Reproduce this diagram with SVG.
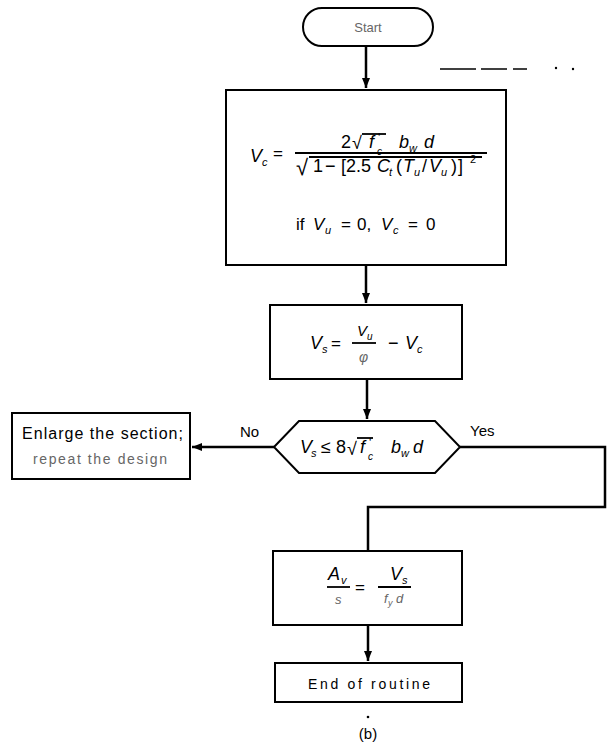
<svg xmlns="http://www.w3.org/2000/svg" width="609" height="749" viewBox="0 0 609 749">
<defs>
<style>
.box{fill:#fff;stroke:#000;stroke-width:2}
.wire{fill:none;stroke:#000;stroke-width:2.5}
.bar{stroke:#000;stroke-width:1.8}
.t{font-family:"Liberation Sans",Arial,sans-serif;fill:#000}
.i{font-style:italic}
.f{fill:#666}
.mark{stroke:#000;stroke-width:1.5}
</style>
<marker id="ah" markerWidth="10" markerHeight="8" refX="10" refY="4" orient="auto" markerUnits="userSpaceOnUse"><path d="M0,0 L10,4 L0,8 z" fill="#000"/></marker>
</defs>
<rect width="609" height="749" fill="#fff"/>

<g id="connectors">
<path class="wire" d="M366,46 V88" marker-end="url(#ah)"/>
<path class="wire" d="M366,265 V303" marker-end="url(#ah)"/>
<path class="wire" d="M367,379 V419" marker-end="url(#ah)"/>
<path class="wire" d="M274,447 H192" marker-end="url(#ah)"/>
<path class="wire" d="M460,447 H605 V507 H368 V551"/>
<path class="wire" d="M368,625 V661" marker-end="url(#ah)"/>
<text class="t" x="240" y="437" font-size="15">No</text>
<text class="t" x="470" y="436" font-size="15">Yes</text>
</g>

<g id="marks">
<line class="mark" x1="440" y1="69" x2="476" y2="69"/>
<line class="mark" x1="481" y1="69" x2="507" y2="69"/>
<line class="mark" x1="513" y1="69" x2="527" y2="69"/>
<circle cx="556" cy="68" r="1.2"/>
<circle cx="573" cy="69" r="1.2"/>
<circle cx="368" cy="717" r="1.3"/>
</g>

<g id="start">
<rect class="box" x="303" y="8" width="130" height="38" rx="19"/>
<text class="t f" x="368" y="32" font-size="13" text-anchor="middle">Start</text>
</g>

<g id="compute-vc">
<rect class="box" x="226" y="90" width="280" height="175"/>
<text class="t i" x="250" y="162" font-size="18">V</text>
<text class="t i" x="262" y="166" font-size="11">c</text>
<text class="t" x="273" y="159" font-size="17">=</text>
<text class="t" x="341" y="148" font-size="18">2</text>
<text class="t" x="352" y="149" font-size="18">√</text>
<line class="bar" x1="362" y1="134" x2="386" y2="134"/>
<text class="t i" x="369" y="148" font-size="18">f</text>
<text class="t" x="378" y="142" font-size="12">'</text>
<text class="t i" x="377" y="155" font-size="10">c</text>
<text class="t i" x="399" y="148" font-size="18">b</text>
<text class="t i" x="409" y="152" font-size="11">w</text>
<text class="t i" x="424" y="148" font-size="18">d</text>
<line class="bar" x1="295" y1="153" x2="487" y2="153"/>
<text class="t" x="296" y="175" font-size="22">√</text>
<line class="bar" x1="309" y1="157" x2="482" y2="157"/>
<text class="t" x="313" y="172" font-size="18">1</text>
<text class="t" x="325" y="172" font-size="18">−</text>
<text class="t" x="341" y="172" font-size="18">[2.5</text>
<text class="t i" x="377" y="172" font-size="18">C</text>
<text class="t i" x="389" y="176" font-size="11">t</text>
<text class="t" x="396" y="172" font-size="18">(</text>
<text class="t i" x="403" y="172" font-size="18">T</text>
<text class="t i" x="414" y="176" font-size="11">u</text>
<text class="t" x="422" y="172" font-size="18">/</text>
<text class="t i" x="429" y="172" font-size="18">V</text>
<text class="t i" x="441" y="176" font-size="11">u</text>
<text class="t" x="451" y="172" font-size="18">)</text>
<text class="t" x="458" y="172" font-size="18">]</text>
<text class="t" x="470" y="163" font-size="11">2</text>
<text class="t" x="296" y="230" font-size="17">if</text>
<text class="t i" x="313" y="230" font-size="17">V</text>
<text class="t i" x="325" y="234" font-size="11">u</text>
<text class="t" x="341" y="230" font-size="17">=</text>
<text class="t" x="357" y="230" font-size="17">0,</text>
<text class="t i" x="381" y="230" font-size="17">V</text>
<text class="t i" x="393" y="234" font-size="11">c</text>
<text class="t" x="408" y="230" font-size="17">=</text>
<text class="t" x="426" y="230" font-size="17">0</text>
</g>

<g id="compute-vs">
<rect class="box" x="270" y="305" width="192" height="74"/>
<text class="t i" x="310" y="349" font-size="18">V</text>
<text class="t i" x="322" y="353" font-size="11">s</text>
<text class="t" x="331" y="349" font-size="17">=</text>
<text class="t i" x="357" y="336" font-size="15">V</text>
<text class="t i" x="367" y="340" font-size="10">u</text>
<line class="bar" x1="352" y1="343" x2="376" y2="343"/>
<text class="t i f" x="359" y="362" font-size="14">φ</text>
<text class="t" x="388" y="349" font-size="18">−</text>
<text class="t i" x="405" y="349" font-size="18">V</text>
<text class="t i" x="417" y="353" font-size="11">c</text>
</g>

<g id="check-vs">
<polygon class="box" points="274,447 299,421 435,421 460,447 435,473 299,473"/>
<text class="t i" x="300" y="453" font-size="18">V</text>
<text class="t i" x="311" y="457" font-size="11">s</text>
<text class="t" x="321" y="453" font-size="18">≤</text>
<text class="t" x="336" y="453" font-size="18">8</text>
<text class="t" x="347" y="455" font-size="18">√</text>
<line class="bar" x1="357" y1="438" x2="373" y2="438"/>
<text class="t i" x="360" y="453" font-size="18">f</text>
<text class="t" x="369" y="447" font-size="12">'</text>
<text class="t i" x="368" y="460" font-size="10">c</text>
<text class="t i" x="391" y="453" font-size="18">b</text>
<text class="t i" x="401" y="457" font-size="11">w</text>
<text class="t i" x="413" y="453" font-size="18">d</text>
</g>

<g id="enlarge">
<rect class="box" x="12" y="413" width="178" height="66"/>
<text class="t" x="22" y="439" font-size="16" textLength="161" lengthAdjust="spacing">Enlarge the section;</text>
<text class="t f" x="33" y="464" font-size="14" textLength="134" lengthAdjust="spacing">repeat the design</text>
</g>

<g id="compute-av">
<rect class="box" x="273" y="551" width="189" height="74"/>
<text class="t i" x="328" y="580" font-size="18">A</text>
<text class="t i" x="341" y="584" font-size="11">v</text>
<line class="bar" x1="327" y1="587" x2="350" y2="587"/>
<text class="t i f" x="335" y="604" font-size="13">s</text>
<text class="t" x="355" y="593" font-size="17">=</text>
<text class="t i" x="390" y="580" font-size="18">V</text>
<text class="t i" x="402" y="584" font-size="11">s</text>
<line class="bar" x1="378" y1="587" x2="411" y2="587"/>
<text class="t i f" x="384" y="603" font-size="13">f</text>
<text class="t i f" x="388" y="606" font-size="9">y</text>
<text class="t i f" x="396" y="603" font-size="13">d</text>
</g>

<g id="end">
<rect class="box" x="275" y="663" width="187" height="39"/>
<text class="t" x="369" y="689" font-size="14" text-anchor="middle" textLength="122" lengthAdjust="spacing">End of routine</text>
</g>

<text class="t" x="368" y="739" font-size="15" text-anchor="middle">(b)</text>
</svg>
